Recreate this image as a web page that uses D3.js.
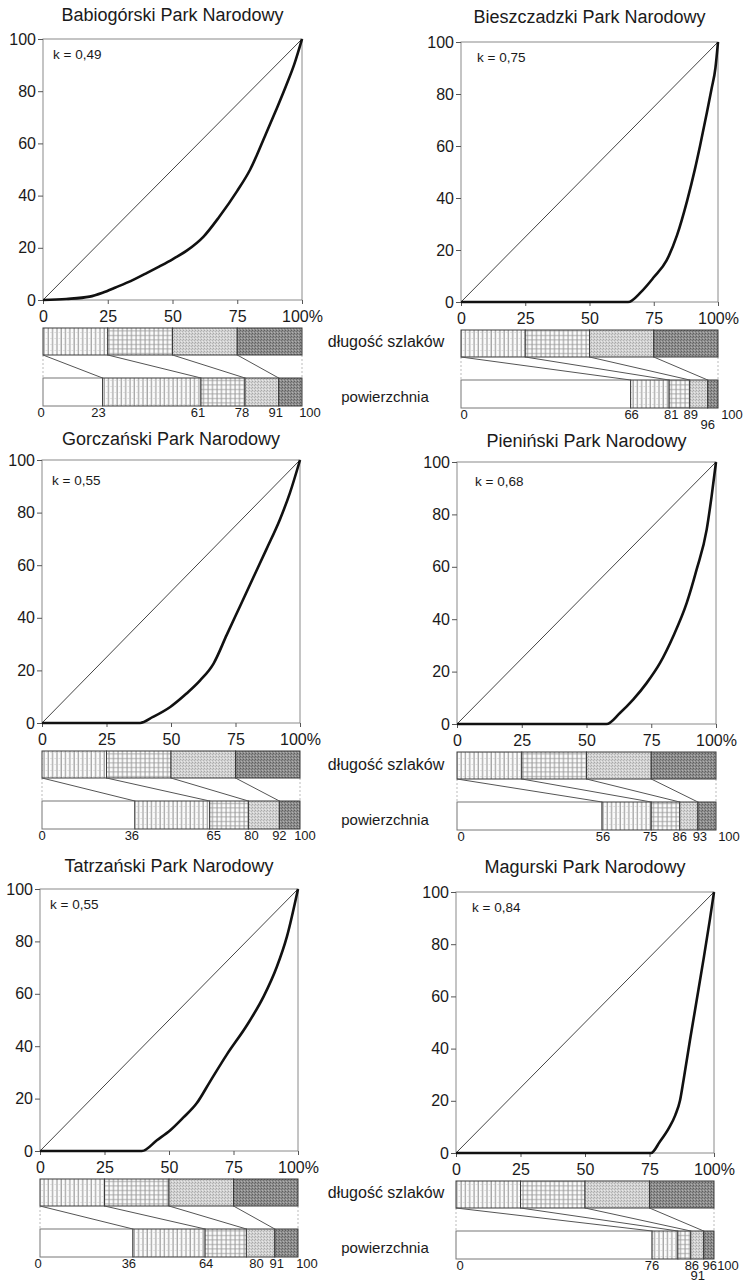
<!DOCTYPE html>
<html><head><meta charset="utf-8">
<script src="https://cdn.jsdelivr.net/npm/d3@7"></script>
<style>
body{margin:0;background:#fff}
svg{display:block}
text{font-family:"Liberation Sans",Arial,sans-serif;fill:#1a1a1a}
</style>
</head><body>
<svg id="c" width="752" height="1282"></svg>
<script>
// ---------- DATA ----------
const parkNames = ["Babiogórski Park Narodowy","Bieszczadzki Park Narodowy","Gorczański Park Narodowy","Pieniński Park Narodowy","Tatrzański Park Narodowy","Magurski Park Narodowy"];
const kValues = ["0,49","0,75","0,55","0,68","0,55","0,84"];
const xTickValues = [0,25,50,75,100];
const xTickLabels = ["0","25","50","75","100%"];
const yTickValues = [0,20,40,60,80,100];
const barRowLabels = ["długość szlaków","powierzchnia"];
// cumulative breaks of trail length (top bar) – quartiles
const trailBreaks = [0,25,50,75,100];
// cumulative breaks of area (bottom bar)
const areaBabiogorski = [0,23,61,78,91,100];
const areaBieszczadzki = [0,66,81,89,96,100];
const areaGorczanski = [0,36,65,80,92,100];
const areaPieninski = [0,56,75,86,93,100];
const areaTatrzanski = [0,36,64,80,91,100];
const areaMagurski = [0,76,86,91,96,100];
// Lorenz curves [x % area, y % trail length]
const lorenzBabiogorski = [[0,0],[9,0.4],[18,1.3],[23,2.8],[28,4.8],[35,7.8],[40,10.3],[45,12.9],[50,15.6],[55.5,18.9],[62,24.3],[68,31.8],[75,41.8],[80,50],[86,63.5],[90,72.8],[94,82.5],[97,90.3],[100,100]];
const lorenzBieszczadzki = [[0,0],[65,0],[70,3.8],[75,9.5],[80,16],[84,25.5],[88,39],[91,51],[93,60],[95.5,72],[97.5,82],[99,90],[100,100]];
const lorenzGorczanski = [[0,0],[38,0],[43,2.3],[49.7,6.1],[56,11.2],[61.3,16.2],[66.5,22.6],[71.6,33.5],[76.8,44.5],[81.9,55.3],[87.1,66.3],[92.3,77.6],[96.1,87.5],[100,100]];
const lorenzPieninski = [[0,0],[57.7,0],[62.9,4.2],[68,9.3],[73.2,15.6],[78.4,23.3],[83.5,33.5],[88.7,46.2],[92.5,58.9],[96.4,74.2],[98.3,86.9],[100,100]];
const lorenzTatrzanski = [[0,0],[39.5,0],[45.3,4.1],[50.5,7.9],[55.6,12.8],[60.8,18.3],[65.9,26.5],[72.4,36.8],[80.2,48],[86.7,59],[91.8,70.3],[95.7,81.8],[100,100]];
const lorenzMagurski = [[0,0],[75.6,0],[79,4.3],[82.5,9.5],[85,14.5],[86.8,20],[88.2,28],[90.7,43.3],[93.3,58.6],[95.9,74],[98.4,89.4],[100,100]];

const areaSets = [areaBabiogorski,areaBieszczadzki,areaGorczanski,areaPieninski,areaTatrzanski,areaMagurski];
const lorenzSets = [lorenzBabiogorski,lorenzBieszczadzki,lorenzGorczanski,lorenzPieninski,lorenzTatrzanski,lorenzMagurski];

// ---------- LAYOUT ----------
const panelBoxes = [
  {x:43,y:39,w:259,h:261},{x:461,y:42,w:257,h:260},
  {x:42,y:460,w:258,h:263},{x:457,y:462,w:259,h:262},
  {x:40,y:889,w:258,h:262},{x:456,y:892,w:258,h:261}];
const titleBaselines = [21,23,445,447,872,873];
const kOffsets = [[10,20],[16,20],[10,25],[18,24],[10,20],[16,20]];
const areaLabelNudge = [[-2,-4,-3,-3,-3,8],[3,1,2,1,0,14],[0,-3,4,3,0,5],[4,1,-1,0,2,13],[-2,-4,1,10,2,9],[4,0,14,7,6,14]];
const areaLabelRow = [[0,0,0,0,0,0],[0,0,0,0,1,0],[0,0,0,0,0,0],[0,0,0,0,0,0],[0,0,0,0,0,0],[0,0,0,1,0,0]];

const svg = d3.select("#c");
const defs = svg.append("defs");

function pat(id,w,h,draw){
  const p = defs.append("pattern").attr("id",id).attr("patternUnits","userSpaceOnUse").attr("width",w).attr("height",h);
  draw(p);
}
pat("pVert",4.3,6,p=>{
  p.append("rect").attr("width",4.3).attr("height",6).attr("fill","#fbfbfb");
  p.append("line").attr("x1",1).attr("x2",1).attr("y1",0).attr("y2",6).attr("stroke","#808080").attr("stroke-width",0.9);
  p.append("rect").attr("x",3).attr("y",2).attr("width",1).attr("height",1).attr("fill","#d0d0d0");
});
pat("pGrid",4.5,4.5,p=>{
  p.append("rect").attr("width",4.5).attr("height",4.5).attr("fill","#fbfbfb");
  p.append("line").attr("x1",1).attr("x2",1).attr("y1",0).attr("y2",4.5).attr("stroke","#8a8a8a").attr("stroke-width",0.9);
  p.append("line").attr("x1",0).attr("x2",4.5).attr("y1",2.5).attr("y2",2.5).attr("stroke","#9a9a9a").attr("stroke-width",0.8);
});
pat("pLight",3,3,p=>{
  p.append("rect").attr("width",3).attr("height",3).attr("fill","#d2d2d2");
  p.append("rect").attr("x",0).attr("y",0).attr("width",1).attr("height",1).attr("fill","#a8a8a8");
  p.append("rect").attr("x",2).attr("y",1).attr("width",1).attr("height",1).attr("fill","#b4b4b4");
  p.append("rect").attr("x",1).attr("y",2).attr("width",1).attr("height",1).attr("fill","#e8e8e8");
});
pat("pDark",3,3,p=>{
  p.append("rect").attr("width",3).attr("height",3).attr("fill","#8e8e8e");
  p.append("rect").attr("x",0).attr("y",0).attr("width",1).attr("height",1).attr("fill","#5e5e5e");
  p.append("rect").attr("x",2).attr("y",1).attr("width",1).attr("height",1).attr("fill","#6e6e6e");
  p.append("rect").attr("x",1).attr("y",2).attr("width",1).attr("height",1).attr("fill","#b0b0b0");
});
const topFills = ["url(#pVert)","url(#pGrid)","url(#pLight)","url(#pDark)"];
const bottomFills = ["#ffffff","url(#pVert)","url(#pGrid)","url(#pLight)","url(#pDark)"];

panelBoxes.forEach((b,i)=>{
  const x = d3.scaleLinear().domain([0,100]).range([b.x,b.x+b.w]);
  const y = d3.scaleLinear().domain([0,100]).range([b.y+b.h,b.y]);
  const g = svg.append("g");
  const bottom = b.y+b.h;

  g.append("text").attr("x",b.x+b.w/2).attr("y",titleBaselines[i]).attr("text-anchor","middle")
    .attr("font-size",18).text(parkNames[i]);

  g.append("rect").attr("x",x(0)).attr("y",y(100)).attr("width",x(100)-x(0)).attr("height",y(0)-y(100))
    .attr("fill","none").attr("stroke","#8a8a8a").attr("stroke-width",1);

  const ya = g.append("g").attr("transform",`translate(${x(0)},0)`)
    .call(d3.axisLeft(y).tickValues(yTickValues).tickSize(5).tickPadding(2).tickFormat(d3.format("d")));
  const xa = g.append("g").attr("transform",`translate(0,${bottom})`)
    .call(d3.axisBottom(x).tickValues(xTickValues).tickSize(4).tickPadding(7).tickFormat((d,j)=>xTickLabels[j]));
  [ya,xa].forEach(a=>{
    a.select(".domain").remove();
    a.selectAll("line").attr("stroke","#555");
    a.selectAll("text").attr("font-size",16).attr("font-family","Liberation Sans, Arial, sans-serif").attr("fill","#1a1a1a");
  });

  g.append("path").attr("d",d3.line().x(d=>x(d[0])).y(d=>y(d[1]))([[0,0],[100,100]]))
    .attr("stroke","#444").attr("stroke-width",1).attr("fill","none");
  g.append("path").attr("d",d3.line().x(d=>x(d[0])).y(d=>y(d[1])).curve(d3.curveMonotoneX)(lorenzSets[i]))
    .attr("stroke","#111").attr("stroke-width",2.6).attr("fill","none").attr("stroke-linejoin","round");

  g.append("text").attr("x",x(0)+kOffsets[i][0]).attr("y",y(100)+kOffsets[i][1])
    .attr("font-size",13.5).text("k = "+kValues[i]);

  const b1t = bottom+28, b1b = bottom+55, b2t = bottom+78, b2b = bottom+106;
  const area = areaSets[i];
  [0,100].forEach(v=>{
    g.append("line").attr("x1",x(v)).attr("x2",x(v)).attr("y1",b1b).attr("y2",b2t)
      .attr("stroke","#aaa").attr("stroke-width",0.8).attr("stroke-dasharray","2,2");
  });
  d3.range(4).forEach(j=>{
    g.append("rect").attr("x",x(trailBreaks[j])).attr("y",b1t).attr("width",x(trailBreaks[j+1])-x(trailBreaks[j])).attr("height",b1b-b1t)
      .attr("fill",topFills[j]).attr("stroke","#3a3a3a").attr("stroke-width",1);
  });
  d3.range(5).forEach(j=>{
    g.append("rect").attr("x",x(area[j])).attr("y",b2t).attr("width",x(area[j+1])-x(area[j])).attr("height",b2b-b2t)
      .attr("fill",bottomFills[j]).attr("stroke",j===0?"#777":"#3a3a3a").attr("stroke-width",1);
  });
  d3.range(4).forEach(j=>{
    g.append("line").attr("x1",x(trailBreaks[j])).attr("y1",b1b).attr("x2",x(area[j+1])).attr("y2",b2t)
      .attr("stroke","#555").attr("stroke-width",1);
  });
  area.forEach((v,j)=>{
    g.append("text").attr("x",x(v)+areaLabelNudge[i][j]).attr("y",bottom+117+areaLabelRow[i][j]*10)
      .attr("text-anchor","middle").attr("font-size",13).text(v);
  });
});

[panelBoxes[0],panelBoxes[2],panelBoxes[4]].forEach(b=>{
  const bottom = b.y+b.h;
  svg.append("text").attr("x",386).attr("y",bottom+47).attr("text-anchor","middle").attr("font-size",16).text(barRowLabels[0]);
  svg.append("text").attr("x",385).attr("y",bottom+102).attr("text-anchor","middle").attr("font-size",15).text(barRowLabels[1]);
});
</script>
</body></html>
